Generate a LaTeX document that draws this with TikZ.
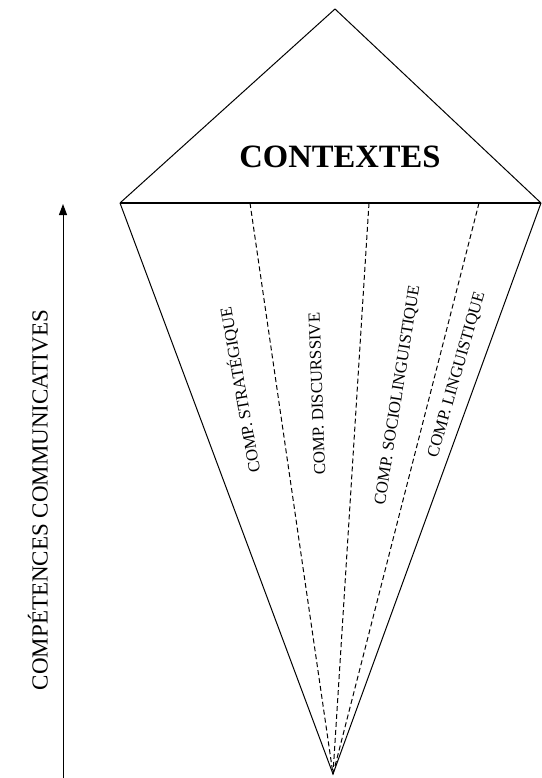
\documentclass[tikz,border=0pt]{standalone}
\usepackage{fontspec}
\setmainfont{Liberation Serif}
\usetikzlibrary{arrows.meta}
\begin{document}
\begin{tikzpicture}[x=1pt,y=-1pt,
  edge/.style={line width=1pt},
  sep/.style={line width=1pt, dash pattern=on 5pt off 3pt},
  complabel/.style={font=\fontsize{16.8}{18}\selectfont, inner sep=0pt},
  lbl/.style={font=\fontsize{23}{25}\selectfont, inner sep=0pt}]
\useasboundingbox (0,0) rectangle (541,778);
\coordinate (apex) at (335,9);
\coordinate (L) at (120,203);
\coordinate (R) at (541,203);
\coordinate (B) at (333,774);
\coordinate (d1) at (250,203);
\coordinate (d2) at (369,203);
\coordinate (d3) at (479,203);
\coordinate (arrB) at (63,778);
\coordinate (arrT) at (63,204);
% top triangle
\draw[edge, line join=miter] (L) -- (apex) -- (R);
\draw[line width=2pt] (L) -- (R);
% lower triangle
\draw[edge] (L) -- (B) -- (R);
\draw[sep] (d1) -- (B);
\draw[sep] (d2) -- (B);
\draw[sep] (d3) -- (B);
% title
\node[font=\fontsize{32.6}{36}\selectfont\bfseries, inner sep=0pt] (ctx) at (340,157) {CONTEXTES};
% labels
\node[complabel, rotate=100] (strat) at (240,390) {COMP. STRATÉGIQUE};
\node[complabel, rotate=92] (disc) at (317,394) {COMP. DISCURSSIVE};
\node[complabel, rotate=81] (socio) at (398,395) {COMP. SOCIOLINGUISTIQUE};
\node[complabel, rotate=74] (ling) at (457,375) {COMP. LINGUISTIQUE};
% arrow
\draw[line width=1pt, -{Triangle[width=8pt,length=11pt]}] (arrB) -- (arrT);
\node[lbl, rotate=90] (comp) at (38,500) {COMPÉTENCES COMMUNICATIVES};
\end{tikzpicture}
\end{document}
